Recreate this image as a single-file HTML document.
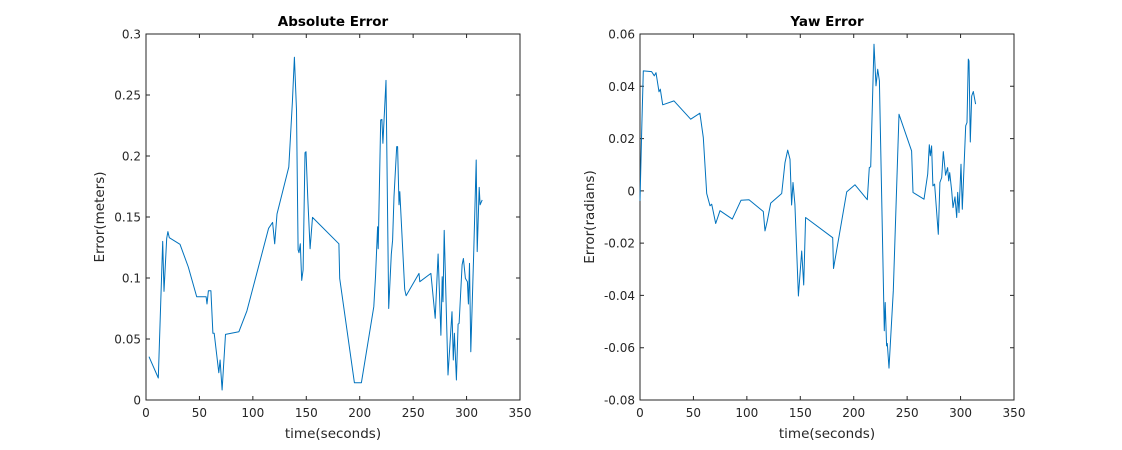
<!DOCTYPE html>
<html><head><meta charset="utf-8"><style>
html,body{margin:0;padding:0;background:#fff;}
svg{display:block;font-family:"DejaVu Sans","Liberation Sans",sans-serif;}
</style></head><body>
<svg id="fig" width="1122" height="450" viewBox="0 0 1122 450" xmlns="http://www.w3.org/2000/svg">
<rect width="1122" height="450" fill="#fff"/>
</svg>
<script>
const xTicks=[0,50,100,150,200,250,300,350];
const absTicks=[0,0.05,0.1,0.15,0.2,0.25,0.3];
const absTickLabels=["0","0.05","0.1","0.15","0.2","0.25","0.3"];
const yawTicks=[-0.08,-0.06,-0.04,-0.02,0,0.02,0.04,0.06];
const yawTickLabels=["-0.08","-0.06","-0.04","-0.02","0","0.02","0.04","0.06"];
const absT=[2.8,11.5,15.6,16.8,19.4,20.5,21.8,31.8,39.6,47.4,56.2,57.1,58.4,60.7,62.6,63.8,68.1,69.3,71.2,74.4,86.9,94.4,114.7,118.5,120.4,122.6,133.6,137,138.9,140.8,142.3,143.2,144.4,145.7,147,148.8,149.7,151.4,153.6,155.8,180.5,181.3,195,201.6,213.2,214.8,216.7,217.3,219.6,220.8,221.7,224.6,227.1,229.6,230.8,232.1,234.6,235.5,236.8,237.5,242.1,243.4,255.5,256.2,266.6,270.6,273.4,276,277.2,277.9,279.1,282.6,286.4,287.6,288.6,290.5,292.1,293,295.8,297,298.9,300.8,301.7,302.7,304,306.8,309,309.9,311.8,312.7,314.6];
const absV=[0.0355,0.018,0.13,0.089,0.1325,0.138,0.133,0.1276,0.109,0.0847,0.0847,0.0787,0.0896,0.0896,0.0547,0.0547,0.0224,0.0328,0.0082,0.0538,0.056,0.073,0.1407,0.1456,0.128,0.1525,0.191,0.2445,0.281,0.2377,0.123,0.1207,0.128,0.098,0.1066,0.2027,0.2035,0.165,0.124,0.1497,0.128,0.0997,0.0142,0.0142,0.0765,0.101,0.142,0.124,0.2295,0.23,0.2104,0.262,0.075,0.1194,0.131,0.1667,0.2077,0.2077,0.16,0.1708,0.0907,0.0855,0.1038,0.097,0.1038,0.067,0.1197,0.053,0.101,0.0806,0.139,0.0205,0.0724,0.0328,0.0547,0.0164,0.0623,0.0628,0.1107,0.116,0.0997,0.097,0.0787,0.112,0.0396,0.123,0.1967,0.1216,0.1743,0.16,0.164];
const yawT=[0,1.6,3.1,10.9,13.4,15,17.8,19,21.2,31.8,47.4,56.1,59.2,62.4,65.5,67.1,70.8,74.9,86.4,94.5,102,115.4,117,119.1,122.3,132.6,135.7,138.2,140.4,141.9,143.2,145,148.2,151.3,153.2,155,180.3,181.1,193.4,201.2,212.7,214.6,215.9,219,220.9,222.4,224,228.6,229.5,230.8,231.4,233,237,242.4,254.2,255.5,265.8,269.2,270.7,271.7,272.9,274.1,275.7,279.2,280.7,282.3,283.8,286,287.9,288.9,289.8,291.7,292.9,294.8,296.4,297.3,298.5,300.4,301.6,304.8,306,307.2,307.9,309.1,310.4,311.9,314.1];
const yawV=[-0.0038,0.023,0.0459,0.0456,0.044,0.0452,0.0379,0.0389,0.0329,0.0344,0.0274,0.0297,0.0204,-0.001,-0.0057,-0.0051,-0.0125,-0.0076,-0.0108,-0.0036,-0.0034,-0.0079,-0.0153,-0.0115,-0.0047,-0.001,0.0108,0.0156,0.0121,-0.0054,0.0032,-0.0051,-0.0402,-0.023,-0.036,-0.0102,-0.0179,-0.0297,-0.0004,0.0023,-0.0034,0.0089,0.0092,0.0561,0.0402,0.0465,0.0421,-0.0535,-0.0427,-0.0593,-0.0584,-0.0678,-0.0382,0.0293,0.0153,-0.0006,-0.0032,0.0064,0.0176,0.0134,0.0172,0.0019,0.0026,-0.0166,0.0032,0.0051,0.015,0.006,0.0089,0.0038,0.007,0,-0.0064,-0.0023,-0.0102,-0.0006,-0.0083,0.0102,-0.007,0.0249,0.0261,0.0504,0.0497,0.0187,0.0363,0.038,0.0332];

const svg=document.getElementById('fig');
const NS='http://www.w3.org/2000/svg';
function mk(tag,attrs,text){const e=document.createElementNS(NS,tag);for(const k in attrs)e.setAttribute(k,attrs[k]);if(text!==undefined)e.textContent=text;svg.appendChild(e);return e;}

function plot(cfg){
  const L=cfg.left,R=cfg.right,T=34,B=400;
  const sx=v=>L+(v-0)/(350-0)*(R-L);
  const sy=v=>B-(v-cfg.ymin)/(cfg.ymax-cfg.ymin)*(B-T);
  let frame=mk('rect',{x:L,y:T,width:R-L,height:B-T,fill:'none',stroke:'#262626','stroke-width':1});
  
  
  xTicks.forEach(t=>{
    const x=sx(t);
    let tk=mk('path',{d:`M${x} ${B}V${B-4}M${x} ${T}V${T+4}`,stroke:'#262626','stroke-width':1});
    
    
    let lb=mk('text',{x:x,y:B+17,'text-anchor':'middle','font-size':12,fill:'#262626'},String(t));
    
    
  });
  cfg.yticks.forEach((t,i)=>{
    const y=sy(t);
    let tk=mk('path',{d:`M${L} ${y}H${L+4}M${R} ${y}H${R-4}`,stroke:'#262626','stroke-width':1});
    
    
    let lb=mk('text',{x:L-5,y:y+4.5,'text-anchor':'end','font-size':12,fill:'#262626'},cfg.ylabels[i]);
    
    
  });
  const d=cfg.t.map((t,i)=>(i?'L':'M')+sx(t).toFixed(1)+' '+sy(cfg.v[i]).toFixed(1)).join('');
  let ln=mk('path',{d:d,fill:'none',stroke:'#0072BD','stroke-width':1,'stroke-linejoin':'round'});
  
  
  let ti=mk('text',{x:(L+R)/2,y:26,'text-anchor':'middle','font-size':13.5,'font-weight':'bold',fill:'#000'},cfg.title);
  
  
  let xl=mk('text',{x:(L+R)/2,y:438,'text-anchor':'middle','font-size':13.5,fill:'#262626'},'time(seconds)');
  
  
  let yl=mk('text',{x:0,y:0,'text-anchor':'middle','font-size':13.5,fill:'#262626',transform:`translate(${cfg.ylx},217) rotate(-90)`},cfg.ylabel);
  
  
}
plot({id:'absolute-error',left:146,right:520,ymin:0,ymax:0.3,yticks:absTicks,ylabels:absTickLabels,t:absT,v:absV,title:'Absolute Error',ylabel:'Error(meters)',ylx:104});
plot({id:'yaw-error',left:640,right:1014,ymin:-0.08,ymax:0.06,yticks:yawTicks,ylabels:yawTickLabels,t:yawT,v:yawV,title:'Yaw Error',ylabel:'Error(radians)',ylx:594});
</script>
</body></html>
